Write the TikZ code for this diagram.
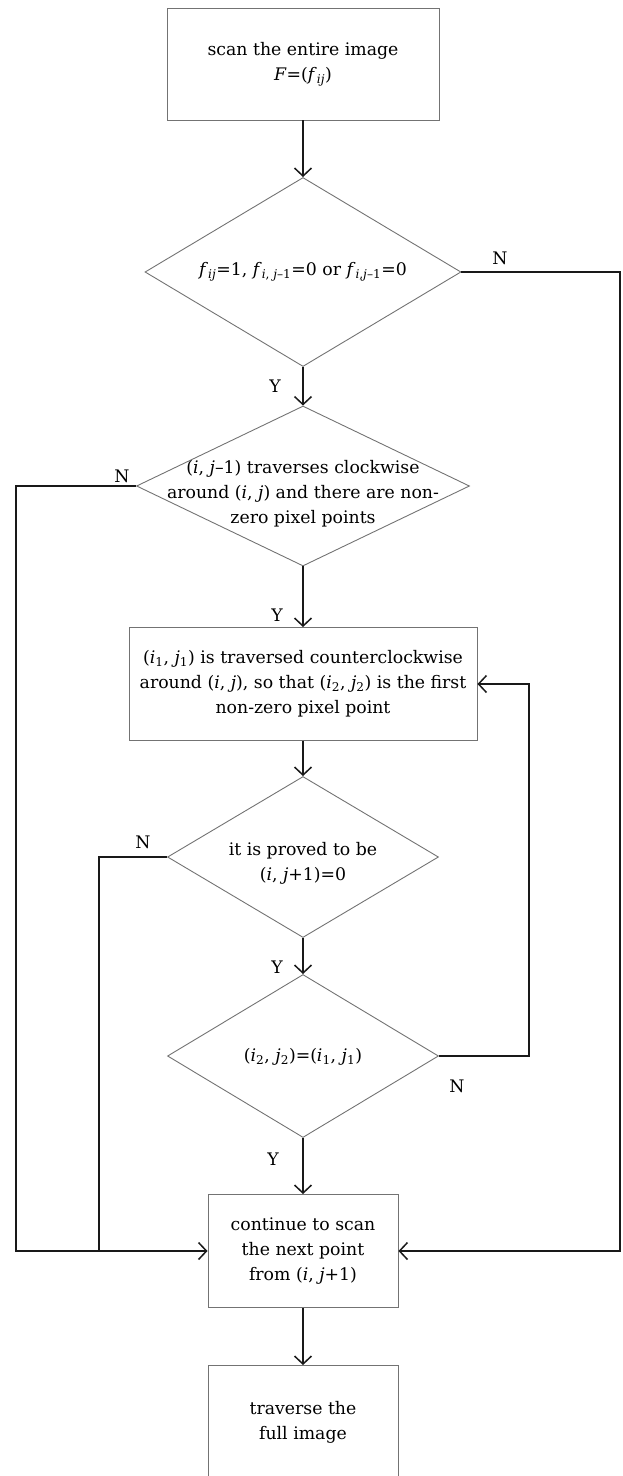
\documentclass[tikz,border=0pt]{standalone}
\usepackage{fontspec}
\setmainfont{DejaVu Serif}
\usetikzlibrary{shapes.geometric,arrows.meta}
\newcommand\iv[1]{\textit{#1}}
\newcommand\sbs[1]{\textsubscript{#1}}
\begin{document}
\begin{tikzpicture}[x=1pt,y=-1pt,
  txt/.style={font=\fontsize{17.3}{25}\selectfont, align=center, inner sep=0pt},
  box/.style={txt, draw=black!55, line width=0.9pt, minimum width=#1, minimum height=113pt},
  dia/.style={diamond, draw=black!55, line width=0.9pt, inner sep=0pt},
  conn/.style={line width=1.5pt, black!90},
  arr/.style={conn, -{Straight Barb[length=8pt,width=17pt]}},
  lab/.style={font=\fontsize{17.3}{25}\selectfont, inner sep=0pt}]
\useasboundingbox (0,0) rectangle (623,1476);
\clip (0,0) rectangle (623,1476);

% boxes
\node[box=272pt, minimum height=112pt] (b1) at (303,64) {scan the entire image\\\iv{F}=(\iv{f}\sbs{\iv{ij}})};
\node[box=348pt] (b2) at (303,684) {(\iv{i}\sbs{1}, \iv{j}\sbs{1}) is traversed counterclockwise\\around (\iv{i}, \iv{j}), so that (\iv{i}\sbs{2}, \iv{j}\sbs{2}) is the first\\non-zero pixel point};
\node[box=190pt] (b3) at (303,1251) {continue to scan\\the next point\\from (\iv{i}, \iv{j}+1)};
\node[box=190pt] (b4) at (303,1422) {traverse the\\full image};

% diamonds
\node[dia, minimum width=316pt, minimum height=189pt] (d1) at (303,272) {};
\node[txt] (t1) at (303,272) {\iv{f}\sbs{\iv{ij}}=1, \iv{f}\sbs{\iv{i}, \iv{j}–1}=0 or \iv{f}\sbs{\iv{i},\iv{j}–1}=0};
\node[dia, minimum width=333pt, minimum height=160pt] (d2) at (303,486) {};
\node[txt] (t2) at (303,494) {(\iv{i}, \iv{j}–1) traverses clockwise\\around (\iv{i}, \iv{j}) and there are non-\\zero pixel points};
\node[dia, minimum width=271pt, minimum height=161pt] (d3) at (303,857) {};
\node[txt] (t3) at (303,863) {it is proved to be\\(\iv{i}, \iv{j}+1)=0};
\node[dia, minimum width=271pt, minimum height=163pt] (d4) at (303,1056) {};
\node[txt] (t4) at (303,1057) {(\iv{i}\sbs{2}, \iv{j}\sbs{2})=(\iv{i}\sbs{1}, \iv{j}\sbs{1})};

% helper coordinates
\coordinate (R1) at (620,272);
\coordinate (L1) at (16,486);
\coordinate (J1) at (99,1251);
\coordinate (R2) at (529,1056);

% connectors
\draw[arr] (b1.south) -- (d1.north);
\draw[arr] (d1.south) -- (d2.north);
\draw[arr] (d2.south) -- (b2.north);
\draw[arr] (b2.south) -- (d3.north);
\draw[arr] (d3.south) -- (d4.north);
\draw[arr] (d4.south) -- (b3.north);
\draw[arr] (b3.south) -- (b4.north);
\draw[arr] (d1.east) -- (R1) |- (b3.east);
\draw[arr] (d2.west) -- (L1) |- (b3.west);
\draw[conn] (d3.west) -| (J1);
\draw[arr] (d4.east) -- (R2) |- (b2.east);

% labels
\node[lab] (n1) at (500,258) {N};
\node[lab] (y1) at (275,386) {Y};
\node[lab] (n2) at (122,476) {N};
\node[lab] (y2) at (277,615) {Y};
\node[lab] (n3) at (143,842) {N};
\node[lab] (y3) at (277,967) {Y};
\node[lab] (n4) at (457,1086) {N};
\node[lab] (y4) at (273,1159) {Y};
\end{tikzpicture}
\end{document}
